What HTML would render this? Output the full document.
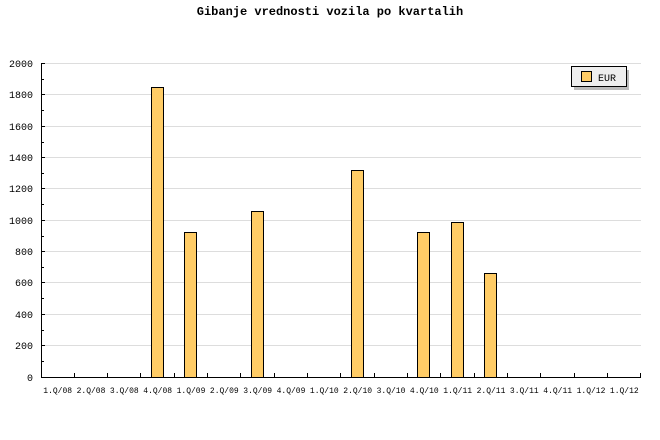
<!DOCTYPE html>
<html><head><meta charset="utf-8"><style>body{margin:0;background:#fff}svg{display:block}</style></head><body>
<svg width="660" height="440" xmlns="http://www.w3.org/2000/svg" font-family="Liberation Mono, monospace">
<rect width="660" height="440" fill="#fff"/>
<text x="330" y="15" text-anchor="middle" font-size="12" font-weight="bold">Gibanje vrednosti vozila po kvartalih</text>
<g stroke="#ddd" stroke-width="1">
<line x1="41" x2="641" y1="63.5" y2="63.5"/><line x1="41" x2="641" y1="94.5" y2="94.5"/><line x1="41" x2="641" y1="126.5" y2="126.5"/><line x1="41" x2="641" y1="157.5" y2="157.5"/><line x1="41" x2="641" y1="188.5" y2="188.5"/><line x1="41" x2="641" y1="220.5" y2="220.5"/><line x1="41" x2="641" y1="251.5" y2="251.5"/><line x1="41" x2="641" y1="282.5" y2="282.5"/><line x1="41" x2="641" y1="314.5" y2="314.5"/><line x1="41" x2="641" y1="345.5" y2="345.5"/>
</g>
<g fill="#ffcc66" stroke="#000" stroke-width="1">
<rect x="151.5" y="87.5" width="12" height="290"/>
<rect x="184.5" y="232.5" width="12" height="145"/>
<rect x="251.5" y="211.5" width="12" height="166"/>
<rect x="351.5" y="170.5" width="12" height="207"/>
<rect x="417.5" y="232.5" width="12" height="145"/>
<rect x="451.5" y="222.5" width="12" height="155"/>
<rect x="484.5" y="273.5" width="12" height="104"/>
</g>
<g stroke="#000" stroke-width="1">
<line x1="41.5" y1="63" x2="41.5" y2="378"/>
<line x1="41" y1="377.5" x2="641" y2="377.5"/>
<line x1="41" x2="45" y1="63.5" y2="63.5"/><line x1="41" x2="44" y1="79.5" y2="79.5"/>
<line x1="41" x2="45" y1="94.5" y2="94.5"/><line x1="41" x2="44" y1="110.5" y2="110.5"/>
<line x1="41" x2="45" y1="126.5" y2="126.5"/><line x1="41" x2="44" y1="142.5" y2="142.5"/>
<line x1="41" x2="45" y1="157.5" y2="157.5"/><line x1="41" x2="44" y1="173.5" y2="173.5"/>
<line x1="41" x2="45" y1="188.5" y2="188.5"/><line x1="41" x2="44" y1="204.5" y2="204.5"/>
<line x1="41" x2="45" y1="220.5" y2="220.5"/><line x1="41" x2="44" y1="236.5" y2="236.5"/>
<line x1="41" x2="45" y1="251.5" y2="251.5"/><line x1="41" x2="44" y1="267.5" y2="267.5"/>
<line x1="41" x2="45" y1="282.5" y2="282.5"/><line x1="41" x2="44" y1="298.5" y2="298.5"/>
<line x1="41" x2="45" y1="314.5" y2="314.5"/><line x1="41" x2="44" y1="330.5" y2="330.5"/>
<line x1="41" x2="45" y1="345.5" y2="345.5"/><line x1="41" x2="44" y1="361.5" y2="361.5"/>
</g>
<g stroke="#000" stroke-width="1" id="xt"></g>
<g font-size="10" text-anchor="end">
<text x="33" y="67">2000</text><text x="33" y="98">1800</text><text x="33" y="130">1600</text><text x="33" y="161">1400</text><text x="33" y="192">1200</text><text x="33" y="224">1000</text><text x="33" y="255">800</text><text x="33" y="286">600</text><text x="33" y="318">400</text><text x="33" y="349">200</text><text x="33" y="381">0</text>
</g>
<g stroke="#000">
<line x1="74.5" x2="74.5" y1="373" y2="378"/><line x1="107.5" x2="107.5" y1="373" y2="378"/><line x1="140.5" x2="140.5" y1="373" y2="378"/><line x1="174.5" x2="174.5" y1="373" y2="378"/><line x1="207.5" x2="207.5" y1="373" y2="378"/><line x1="240.5" x2="240.5" y1="373" y2="378"/><line x1="274.5" x2="274.5" y1="373" y2="378"/><line x1="307.5" x2="307.5" y1="373" y2="378"/><line x1="340.5" x2="340.5" y1="373" y2="378"/><line x1="374.5" x2="374.5" y1="373" y2="378"/><line x1="407.5" x2="407.5" y1="373" y2="378"/><line x1="440.5" x2="440.5" y1="373" y2="378"/><line x1="474.5" x2="474.5" y1="373" y2="378"/><line x1="507.5" x2="507.5" y1="373" y2="378"/><line x1="540.5" x2="540.5" y1="373" y2="378"/><line x1="574.5" x2="574.5" y1="373" y2="378"/><line x1="607.5" x2="607.5" y1="373" y2="378"/><line x1="640.5" x2="640.5" y1="373" y2="378"/>
</g>
<g font-size="8" text-anchor="middle">
<text x="57.7" y="393">1.Q/08</text><text x="91" y="393">2.Q/08</text><text x="124.3" y="393">3.Q/08</text><text x="157.7" y="393">4.Q/08</text><text x="191" y="393">1.Q/09</text><text x="224.3" y="393">2.Q/09</text><text x="257.7" y="393">3.Q/09</text><text x="291" y="393">4.Q/09</text><text x="324.3" y="393">1.Q/10</text><text x="357.7" y="393">2.Q/10</text><text x="391" y="393">3.Q/10</text><text x="424.3" y="393">4.Q/10</text><text x="457.7" y="393">1.Q/11</text><text x="491" y="393">2.Q/11</text><text x="524.3" y="393">3.Q/11</text><text x="557.7" y="393">4.Q/11</text><text x="591" y="393">1.Q/12</text><text x="624.3" y="393">1.Q/12</text>
</g>
<rect x="574" y="70" width="55" height="20" fill="#bbb"/>
<rect x="571.5" y="66.5" width="55" height="20" fill="#eee" stroke="#000"/>
<rect x="581.5" y="71.5" width="10" height="10" fill="#ffcc66" stroke="#000"/>
<text x="598" y="81" font-size="10">EUR</text>
</svg>
</body></html>
